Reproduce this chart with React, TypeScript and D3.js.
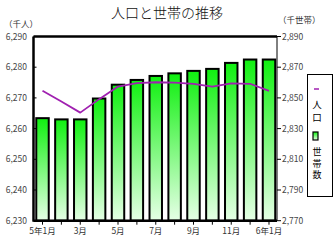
import React from "react";
import * as d3 from "d3";

const months = ["5年1月", "2月", "3月", "4月", "5月", "6月", "7月", "8月", "9月", "10月", "11月", "12月", "6年1月"];
const tickLabels = ["5年1月", "", "3月", "", "5月", "", "7月", "", "9月", "", "11月", "", "6年1月"];
const households = [2836.8, 2836.0, 2836.0, 2849.6, 2858.6, 2861.7, 2864.3, 2866.0, 2867.6, 2868.9, 2872.8, 2875.0, 2875.0];
const population = [6272.3, 6268.8, 6265.2, 6269.6, 6273.7, 6274.8, 6275.1, 6275.0, 6274.6, 6273.7, 6274.7, 6274.6, 6272.3];
const leftTicks = [6230, 6240, 6250, 6260, 6270, 6280, 6290];
const rightTicks = [2770, 2790, 2810, 2830, 2850, 2870, 2890];

const W = 335, H = 242;
const L = 33.5, R = 277, T = 36.5, B = 220.7;
const font = "'Noto Sans CJK JP', 'DejaVu Sans', sans-serif";
const fmt = d3.format(",");

export default function App() {
  const x = d3.scaleBand<string>().domain(months).range([L - 1, R + 2]).paddingInner(0.34).paddingOuter(0.2);
  const yL = d3.scaleLinear().domain([6230, 6290]).range([B, T]);
  const yR = d3.scaleLinear().domain([2770, 2890]).range([B, T]);
  const line = d3.line<number>()
    .x((_, i) => (x(months[i]) as number) + x.bandwidth() / 2)
    .y((d) => yL(d))
    .curve(d3.curveLinear);

  return (
    <svg width={W} height={H} style={{ position: "absolute", left: 0, top: 0, background: "#fff" }} fontFamily={font}>
      <defs>
        <linearGradient id="g" x1="0" y1="0" x2="0" y2="1">
          <stop offset="0" stopColor="#10f010" />
          <stop offset="1" stopColor="#e6ffe6" />
        </linearGradient>
      </defs>
      <text x={167} y={18} textAnchor="middle" fontSize={14} fontWeight={300} fill="#111">人口と世帯の推移</text>
      <text x={4} y={27} fontSize={8.5} fill="#333">（千人）</text>
      <text x={278} y={23} fontSize={8.5} fill="#333">（千世帯）</text>

      {households.map((v, i) => (
        <rect key={i} x={x(months[i])} y={yR(v)} width={x.bandwidth()} height={B - yR(v)}
          fill="url(#g)" stroke="#000" strokeWidth={2} />
      ))}

      <path d={line(population) || ""} fill="none" stroke="#a020b0" strokeWidth={1.8} strokeLinejoin="round" />

      {/* frame */}
      <line x1={L} x2={R} y1={T} y2={T} stroke="#000" strokeWidth={2.5} />
      <line x1={L} x2={L} y1={T} y2={B + 1} stroke="#000" strokeWidth={2.5} />
      <line x1={L} x2={R} y1={B} y2={B} stroke="#000" strokeWidth={2.5} />
      <line x1={R} x2={R} y1={T} y2={B} stroke="#000" strokeWidth={1} />

      {leftTicks.map((t) => (
        <g key={t}>
          <line x1={L} x2={L + 3} y1={yL(t)} y2={yL(t)} stroke="#000" strokeWidth={1} />
          <text x={27} y={yL(t) + 3} textAnchor="end" fontSize={8.5} fill="#444">{fmt(t)}</text>
        </g>
      ))}
      {rightTicks.map((t) => (
        <g key={t}>
          <line x1={R} x2={R + 4} y1={yR(t)} y2={yR(t)} stroke="#000" strokeWidth={1} />
          <text x={282} y={yR(t) + 3} fontSize={8.5} fill="#444">{fmt(t)}</text>
        </g>
      ))}
      {months.map((m, i) => {
        const cx = (x(m) as number) + x.bandwidth() / 2;
        return (
          <g key={m}>
            <line x1={cx} x2={cx} y1={B} y2={B + 4} stroke="#000" strokeWidth={1} />
            {tickLabels[i] && (
              <text x={cx} y={234} textAnchor="middle" fontSize={8.5} fill="#333">{tickLabels[i]}</text>
            )}
          </g>
        );
      })}

      {/* legend */}
      <rect x={307.5} y={74.5} width={25} height={122} fill="#fff" stroke="#000" strokeWidth={1} />
      <line x1={314} x2={319} y1={89} y2={89} stroke="#a020b0" strokeWidth={1.5} />
      {"人口".split("").map((c, i) => (
        <text key={c} x={317} y={108 + i * 13} textAnchor="middle" fontSize={9.5} fill="#000">{c}</text>
      ))}
      <rect x={313} y={132} width={5} height={8} fill="url(#g)" stroke="#000" strokeWidth={1.2} />
      {"世帯数".split("").map((c, i) => (
        <text key={c} x={317} y={155 + i * 11.5} textAnchor="middle" fontSize={9} fill="#000">{c}</text>
      ))}
    </svg>
  );
}
